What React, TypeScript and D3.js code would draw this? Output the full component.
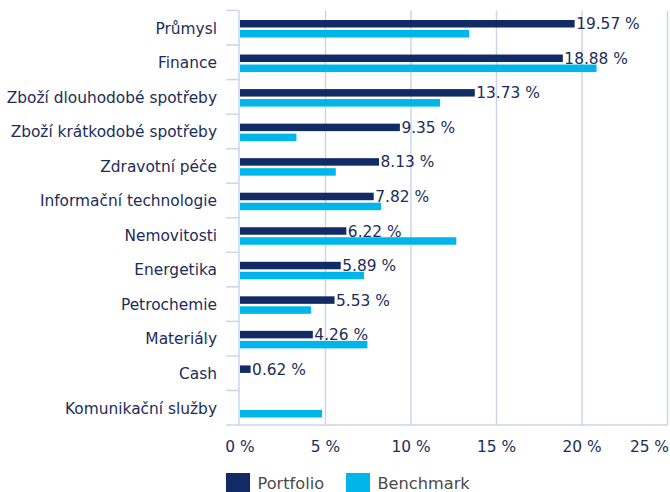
import React from "react";
import * as d3 from "d3";

const categories = [
  "Průmysl",
  "Finance",
  "Zboží dlouhodobé spotřeby",
  "Zboží krátkodobé spotřeby",
  "Zdravotní péče",
  "Informační technologie",
  "Nemovitosti",
  "Energetika",
  "Petrochemie",
  "Materiály",
  "Cash",
  "Komunikační služby",
];
const portfolio: (number | null)[] = [19.57, 18.88, 13.73, 9.35, 8.13, 7.82, 6.22, 5.89, 5.53, 4.26, 0.62, null];
const benchmark: (number | null)[] = [13.4, 20.85, 11.7, 3.3, 5.6, 8.25, 12.65, 7.25, 4.15, 7.45, null, 4.8];
const xTicks = [0, 5, 10, 15, 20, 25];
const seriesNames = ["Portfolio", "Benchmark"];

const W = 670;
const H = 492;
const NAVY = "#132B65";
const CYAN = "#00B5EA";
const TEXT = "#1C2C5B";
const GRID = "#CAD6E8";
const FONT = "'DejaVu Sans', Verdana, sans-serif";
const FS = 15.4;

export default function App() {
  const x = d3.scaleLinear().domain([0, 25]).range([240, 667.5]);
  const y = d3.scaleBand<string>().domain(categories).range([10.5, 425]).padding(0);
  const bw = y.bandwidth();
  const fmt = (v: number) => v.toFixed(2) + " %";

  return (
    <svg width={W} height={H} style={{ position: "absolute", left: 0, top: 0, background: "#fff" }}>
      {xTicks.slice(1).map((t) => (
        <line key={"g" + t} x1={x(t)} x2={x(t)} y1={10.5} y2={425} stroke={GRID} strokeWidth={1.5} />
      ))}
      <line x1={226} x2={x(25)} y1={425} y2={425} stroke={GRID} strokeWidth={1.5} />
      <line x1={239} x2={239} y1={10.5} y2={425} stroke={GRID} strokeWidth={1.5} />
      {categories.map((c) => (
        <line key={"t" + c} x1={226} x2={239} y1={y(c)!} y2={y(c)!} stroke={GRID} strokeWidth={1.5} />
      ))}
      {categories.map((c, i) => {
        const y0 = y(c)!;
        const p = portfolio[i];
        const b = benchmark[i];
        return (
          <g key={"b" + c}>
            {p != null && (
              <rect x={x(0)} y={y0 + 9.5} width={x(p) - x(0)} height={7.5} fill={NAVY} />
            )}
            {b != null && (
              <rect x={x(0)} y={y0 + 19.5} width={x(b) - x(0)} height={7.5} fill={CYAN} />
            )}
            {p != null && (
              <text x={x(p) + 1.5} y={y0 + 18.8} fontSize={FS} fill={TEXT} fontFamily={FONT}>
                {fmt(p)}
              </text>
            )}
            <text
              x={217}
              y={y0 + bw / 2 + 5.8}
              textAnchor="end"
              fontSize={FS}
              fill={TEXT}
              fontFamily={FONT}
            >
              {c}
            </text>
          </g>
        );
      })}
      {xTicks.map((t, i) => {
        const last = i === xTicks.length - 1;
        return (
          <text
            key={"x" + t}
            x={last ? 669 : x(t)}
            y={451.5}
            textAnchor={last ? "end" : "middle"}
            fontSize={FS}
            fill={TEXT}
            fontFamily={FONT}
          >
            {t + " %"}
          </text>
        );
      })}
      {seriesNames.map((s, i) => {
        const lx = i === 0 ? 226 : 346;
        return (
          <g key={"l" + s}>
            <rect x={lx} y={473} width={24} height={19} fill={i === 0 ? NAVY : CYAN} />
            <text x={lx + 31.5} y={489} fontSize={16.2} fill="#4a4a4a" fontFamily={FONT}>
              {s}
            </text>
          </g>
        );
      })}
    </svg>
  );
}
